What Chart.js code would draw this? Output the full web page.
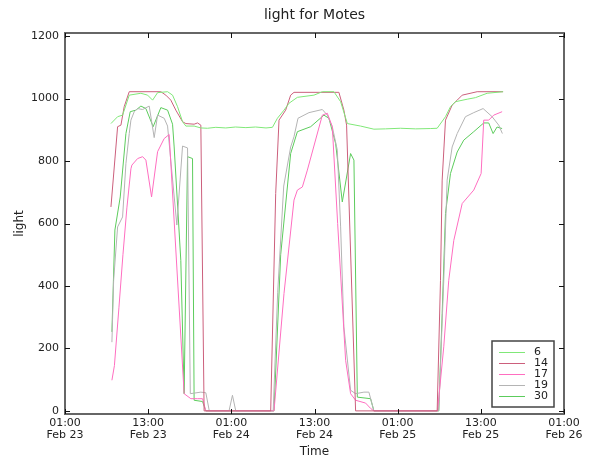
<!DOCTYPE html>
<html>
<head>
<meta charset="utf-8">
<title>light for Motes</title>
<script src="https://cdn.jsdelivr.net/npm/chart.js@4.4.1/dist/chart.umd.min.js"></script>
<style>
  html, body { margin: 0; padding: 0; background: #fff; }
  #wrap { width: 593px; height: 459px; }
</style>
</head>
<body>
<div id="wrap"><canvas id="chart" width="593" height="459"></canvas></div>
<script>
// x values are hours after 01:00 Feb 23
const xTicks = [0, 12, 24, 36, 48, 60, 72];
const xTickLabels = [
  ['01:00', 'Feb 23'], ['13:00', 'Feb 23'], ['01:00', 'Feb 24'], ['13:00', 'Feb 24'],
  ['01:00', 'Feb 25'], ['13:00', 'Feb 25'], ['01:00', 'Feb 26']
];
const yTicks = [0, 200, 400, 600, 800, 1000, 1200];

const moteIds = ['6', '14', '17', '19', '30'];
const moteColors = ['#80e878', '#cc5f7c', '#ff6ec0', '#b4b4b4', '#5ccc5c'];

const mote6Hours = [6.63, 7.59, 8.31, 9.27, 10.95, 11.92, 12.64, 13.36, 14.8, 15.52, 16.24, 16.96, 17.44, 18.63, 19.6, 20.56,
  21.76, 23.2, 24.6, 26.1, 27.5, 29.0, 29.93, 30.65, 31.6, 32.32, 33.53, 35.92, 37.13, 38.8, 39.77, 40.74, 42.65, 44.57,
  46.25, 48.4, 50.6, 52.7, 53.7, 54.9, 55.62, 56.34, 58.03, 59.22, 60.91, 63.21];
const mote6Light = [920, 942, 947, 1011, 1017, 1011, 995, 1019, 1022, 1011, 974, 926, 912, 912, 906, 905,
  908, 906, 909, 907, 909, 906, 908, 937, 963, 985, 1004, 1011, 1022, 1022, 990, 920, 912, 902,
  903, 905, 903, 904, 905, 942, 974, 990, 998, 1003, 1017, 1022];

const mote14Hours = [6.63, 7.59, 8.07, 8.54, 9.27, 13.83, 14.55, 15.27, 15.99, 16.96, 17.44, 18.63, 19.12, 19.6, 20.07,
  29.68, 30.4, 30.88, 31.84, 32.56, 33.04, 39.52, 40.24, 40.63, 41.93,
  53.7, 54.18, 54.42, 54.9, 55.86, 56.59, 57.31, 59.47, 63.21];
const mote14Light = [653, 910, 915, 974, 1022, 1022, 1011, 995, 963, 926, 920, 918, 922, 915, 0,
  0, 696, 931, 963, 1011, 1020, 1020, 963, 915, 0,
  0, 418, 739, 931, 979, 995, 1011, 1022, 1022];

const mote17Hours = [6.77, 7.13, 7.78, 8.36, 8.93, 9.51, 9.65, 10.48, 11.2, 11.67, 12.49, 13.36, 14.31, 15.03, 17.19, 18.16, 19.12, 19.84, 20.32,
  30.16, 31.6, 33.04, 33.53, 34.25, 34.97, 37.13, 37.85, 38.57, 39.34, 40.49, 41.21, 41.93, 43.37, 44.09, 44.57,
  53.75, 54.65, 55.37, 56.1, 57.31, 58.98, 60.04, 60.42, 61.14, 61.86, 63.07];
const mote17Light = [98, 145, 330, 500, 650, 775, 787, 808, 814, 803, 685, 830, 872, 885, 55, 39, 39, 39, 0,
  0, 376, 675, 707, 717, 771, 947, 953, 910, 600, 162, 55, 34, 25, 8, 0,
  0, 205, 418, 546, 664, 707, 760, 931, 931, 947, 958];

const mote19Hours = [6.77, 7.02, 7.59, 8.31, 8.79, 9.27, 9.51, 9.99, 10.48, 11.2, 12.15, 12.87, 13.36, 14.31, 14.8, 16.14, 16.96, 17.68, 18.08, 19.6, 20.32, 20.82,
  23.67, 24.16, 24.64,
  30.04, 30.69, 31.56, 32.56, 33.04, 33.62, 35.2, 37.13, 37.85, 38.57, 39.29, 39.77, 40.24, 41.21, 41.93, 43.13, 43.85, 44.57,
  53.93, 54.65, 55.14, 55.86, 56.59, 57.78, 58.98, 60.33, 61.63, 62.58, 63.11];
const mote19Light = [220, 418, 589, 621, 792, 888, 931, 958, 968, 965, 976, 875, 947, 937, 912, 595, 848, 842, 55, 60, 58, 0,
  0, 50, 0,
  0, 380, 720, 845, 878, 937, 955, 965, 947, 910, 835, 589, 269, 66, 55, 60, 60, 0,
  0, 418, 739, 845, 888, 942, 955, 968, 942, 915, 888];

const mote30Hours = [6.77, 7.2, 7.97, 8.79, 9.41, 10.23, 10.95, 11.67, 12.72, 13.83, 14.8, 15.52, 15.75, 16.71, 17.19, 17.68, 18.4, 18.63, 19.84, 20.32,
  30.16, 31.12, 32.56, 33.53, 35.45, 37.36, 38.08, 39.05, 40.01, 41.21, 41.69, 42.18, 44.09, 44.57,
  53.93, 54.42, 54.9, 55.62, 56.59, 57.54, 58.98, 60.42, 61.14, 61.77, 62.34, 63.07];
const mote30Light = [253, 579, 685, 888, 958, 963, 976, 968, 910, 971, 963, 918, 845, 482, 55, 814, 808, 34, 30, 0,
  0, 500, 824, 894, 910, 947, 937, 856, 669, 824, 803, 44, 39, 0,
  0, 312, 632, 760, 829, 867, 894, 922, 922, 888, 909, 904];

const moteHours = [mote6Hours, mote14Hours, mote17Hours, mote19Hours, mote30Hours];
const moteLight = [mote6Light, mote14Light, mote17Light, mote19Light, mote30Light];

const FONT = 'DejaVu Sans';

const datasets = moteIds.map((id, i) => ({
  label: id,
  data: moteHours[i].map((h, j) => ({ x: h, y: moteLight[i][j] })),
  borderColor: moteColors[i],
  backgroundColor: moteColors[i],
  borderWidth: 1,
  pointRadius: 0,
  tension: 0,
  fill: false,
}));

// box round the plot with small inward ticks, as in the original
const framePlugin = {
  id: 'frame',
  afterDatasetsDraw(chart) {
    const { ctx, chartArea: a, scales: { x, y } } = chart;
    ctx.save();
    ctx.strokeStyle = '#666';
    ctx.lineWidth = 2;
    ctx.strokeRect(a.left, a.top, a.right - a.left, a.bottom - a.top);
    ctx.strokeStyle = '#111';
    ctx.lineWidth = 1;
    ctx.beginPath();
    x.ticks.forEach(t => {
      const px = Math.round(x.getPixelForValue(t.value)) + 0.5;
      ctx.moveTo(px, a.bottom); ctx.lineTo(px, a.bottom - 5);
      ctx.moveTo(px, a.top); ctx.lineTo(px, a.top + 5);
    });
    y.ticks.forEach(t => {
      const py = Math.round(y.getPixelForValue(t.value)) + 0.5;
      ctx.moveTo(a.left, py); ctx.lineTo(a.left + 5, py);
      ctx.moveTo(a.right, py); ctx.lineTo(a.right - 5, py);
    });
    ctx.stroke();
    ctx.restore();
  }
};

// legend box inside the lower right corner
const boxLegendPlugin = {
  id: 'boxLegend',
  afterDraw(chart) {
    const { ctx, chartArea: a } = chart;
    const sets = chart.data.datasets;
    const w = 62, rowH = 11, h = 10 + rowH * sets.length + 1;
    const right = a.right - 10, bottom = a.bottom - 7;
    const left = right - w, top = bottom - h;
    ctx.save();
    ctx.fillStyle = '#fff';
    ctx.fillRect(left, top, w, h);
    ctx.strokeStyle = '#444';
    ctx.lineWidth = 1.5;
    ctx.strokeRect(left, top, w, h);
    ctx.font = '11px "' + FONT + '"';
    ctx.textBaseline = 'middle';
    ctx.textAlign = 'left';
    sets.forEach((ds, i) => {
      const cy = Math.round(top + 11 + i * rowH) + 0.5;
      ctx.strokeStyle = ds.borderColor;
      ctx.lineWidth = 1;
      ctx.beginPath();
      ctx.moveTo(left + 7, cy);
      ctx.lineTo(left + 33, cy);
      ctx.stroke();
      ctx.fillStyle = '#222';
      ctx.fillText(ds.label, left + 42, cy);
    });
    ctx.restore();
  }
};

new Chart(document.getElementById('chart'), {
  type: 'line',
  data: { datasets },
  options: {
    responsive: false,
    animation: false,
    devicePixelRatio: 1,
    layout: { padding: { left: 0, right: 29, top: 0, bottom: 0 } },
    plugins: {
      legend: { display: false },
      tooltip: { enabled: false },
      title: {
        display: true,
        fullSize: false,
        text: 'light for Motes',
        color: '#222',
        font: { family: FONT, size: 14, weight: 'normal' },
        padding: { top: 7, bottom: 9.2 }
      }
    },
    scales: {
      x: {
        type: 'linear',
        min: 0,
        max: 72,
        afterBuildTicks: s => { s.ticks = xTicks.map(v => ({ value: v })); },
        afterFit: s => { s.height = 45; },
        grid: { display: false, drawTicks: false },
        border: { display: false },
        ticks: {
          color: '#222',
          padding: 3,
          maxRotation: 0,
          font: { family: FONT, size: 11, lineHeight: 1.1 },
          callback: v => xTickLabels[xTicks.indexOf(v)]
        },
        title: {
          display: true,
          text: 'Time',
          color: '#222',
          font: { family: FONT, size: 12 },
          padding: { top: 0, bottom: 0 }
        }
      },
      y: {
        min: -10,
        max: 1210,
        afterBuildTicks: s => { s.ticks = yTicks.map(v => ({ value: v })); },
        afterFit: s => { s.width = 65; },
        grid: { display: false, drawTicks: false },
        border: { display: false },
        ticks: {
          color: '#222',
          padding: 6,
          font: { family: FONT, size: 11 },
          callback: v => String(v)
        },
        title: {
          display: true,
          text: 'light',
          color: '#222',
          font: { family: FONT, size: 12 },
          padding: { top: 13, bottom: 0 }
        }
      }
    }
  },
  plugins: [framePlugin, boxLegendPlugin]
});
</script>
</body>
</html>
